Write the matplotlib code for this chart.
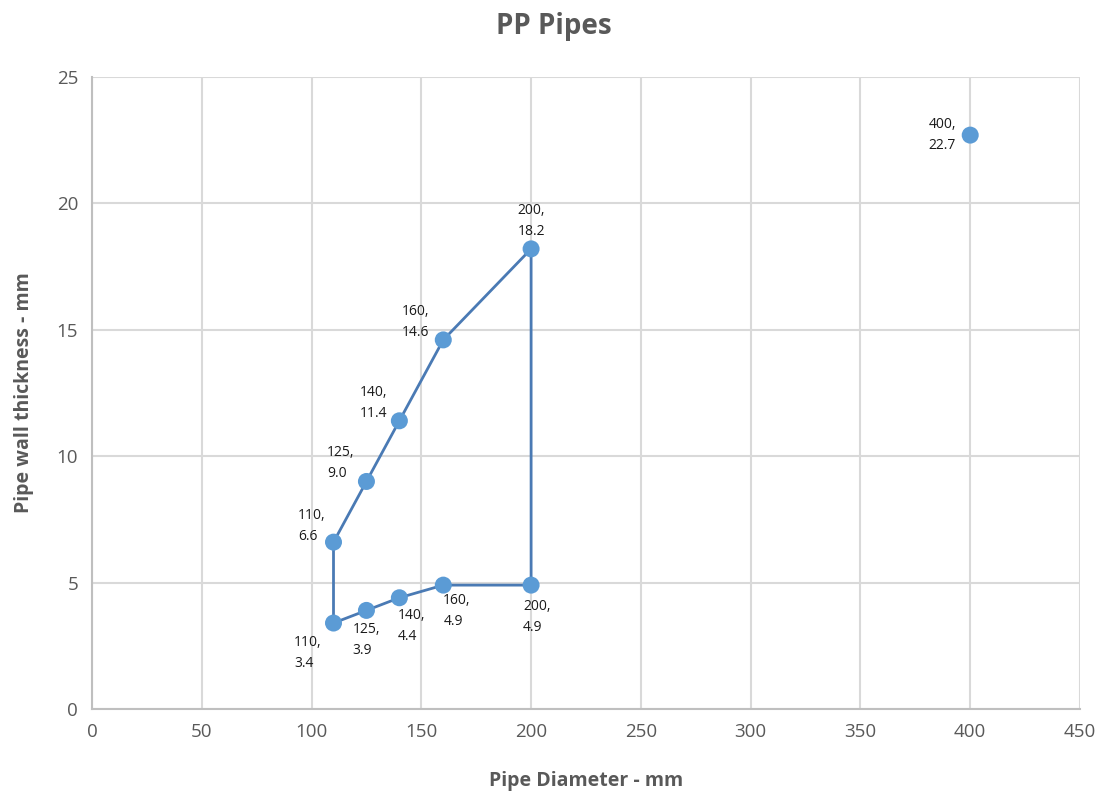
import matplotlib
matplotlib.use("Agg")
import matplotlib.pyplot as plt

plt.rcParams['font.family'] = ['Open Sans', 'DejaVu Sans']

# Data: closed path of PP pipes (diameter, wall thickness)
diam = [110, 125, 140, 160, 200, 200, 160, 140, 125, 110, 110]
wall = [3.4, 3.9, 4.4, 4.9, 4.9, 18.2, 14.6, 11.4, 9.0, 6.6, 3.4]
extra_diam = [400]
extra_wall = [22.7]

x_ticks = [0, 50, 100, 150, 200, 250, 300, 350, 400, 450]
y_ticks = [0, 5, 10, 15, 20, 25]

fig = plt.figure(figsize=(11.07, 7.96), dpi=100)
ax = fig.add_axes([0.0831, 0.1093, 0.8925, 0.794])

line_c = '#4a7ab4'
mark_c = '#5b9bd5'
ax.plot(diam, wall, color=line_c, lw=2.0, zorder=3)
ax.scatter(diam[:-1], wall[:-1], s=150, color=mark_c, zorder=4, edgecolors='none')
ax.scatter(extra_diam, extra_wall, s=150, color=mark_c, zorder=4, edgecolors='none')

# label offsets in pixels (dx, dy, ha, va)
offsets = {
    (110, 3.4): (-12, -12, 'right', 'top'),
    (125, 3.9): (-14, -12, 'left', 'top'),
    (140, 4.4): (-2, -10, 'left', 'top'),
    (160, 4.9): (0, -8, 'left', 'top'),
    (200, 4.9): (-8, -14, 'left', 'top'),
    (200, 18.2): (0, 10, 'center', 'bottom'),
    (160, 14.6): (-14, 0, 'right', 'bottom'),
    (140, 11.4): (-12, 0, 'right', 'bottom'),
    (125, 9.0): (-12, 0, 'right', 'bottom'),
    (110, 6.6): (-8, -2, 'right', 'bottom'),
    (400, 22.7): (-14, 0, 'right', 'center'),
}
pts = list(zip(diam[:-1], wall[:-1])) + list(zip(extra_diam, extra_wall))
for (xv, yv) in pts:
    dx, dy, ha, va = offsets[(xv, yv)]
    ax.annotate(f"{xv},\n{yv:.1f}", (xv, yv), xytext=(dx, dy),
                textcoords='offset pixels', ha=ha, va=va, fontsize=10,
                multialignment='left',
                color='#1a1a1a', linespacing=1.55, zorder=5)

ax.set_xlim(0, 450)
ax.set_ylim(0, 25)
ax.set_xticks(x_ticks)
ax.set_yticks(y_ticks)
ax.grid(True, color='#d9d9d9', lw=1.5)
ax.set_axisbelow(True)
for s in ['top', 'right']:
    ax.spines[s].set_visible(False)
ax.spines['left'].set_color('#bfbfbf')
ax.spines['bottom'].set_color('#bfbfbf')
ax.spines['left'].set_linewidth(1.5)
ax.spines['bottom'].set_linewidth(1.5)
ax.tick_params(length=0, labelsize=13.5, labelcolor='#595959', pad=10)

ax.set_xlabel('Pipe Diameter - mm', fontsize=14, fontweight='bold', color='#595959', labelpad=22)
ax.set_ylabel('Pipe wall thickness - mm', fontsize=14, fontweight='bold', color='#595959', labelpad=16)
fig.suptitle('PP Pipes', x=0.5, y=0.985, fontsize=20, fontweight='bold', color='#595959')

fig.savefig('out.png', dpi=100)
